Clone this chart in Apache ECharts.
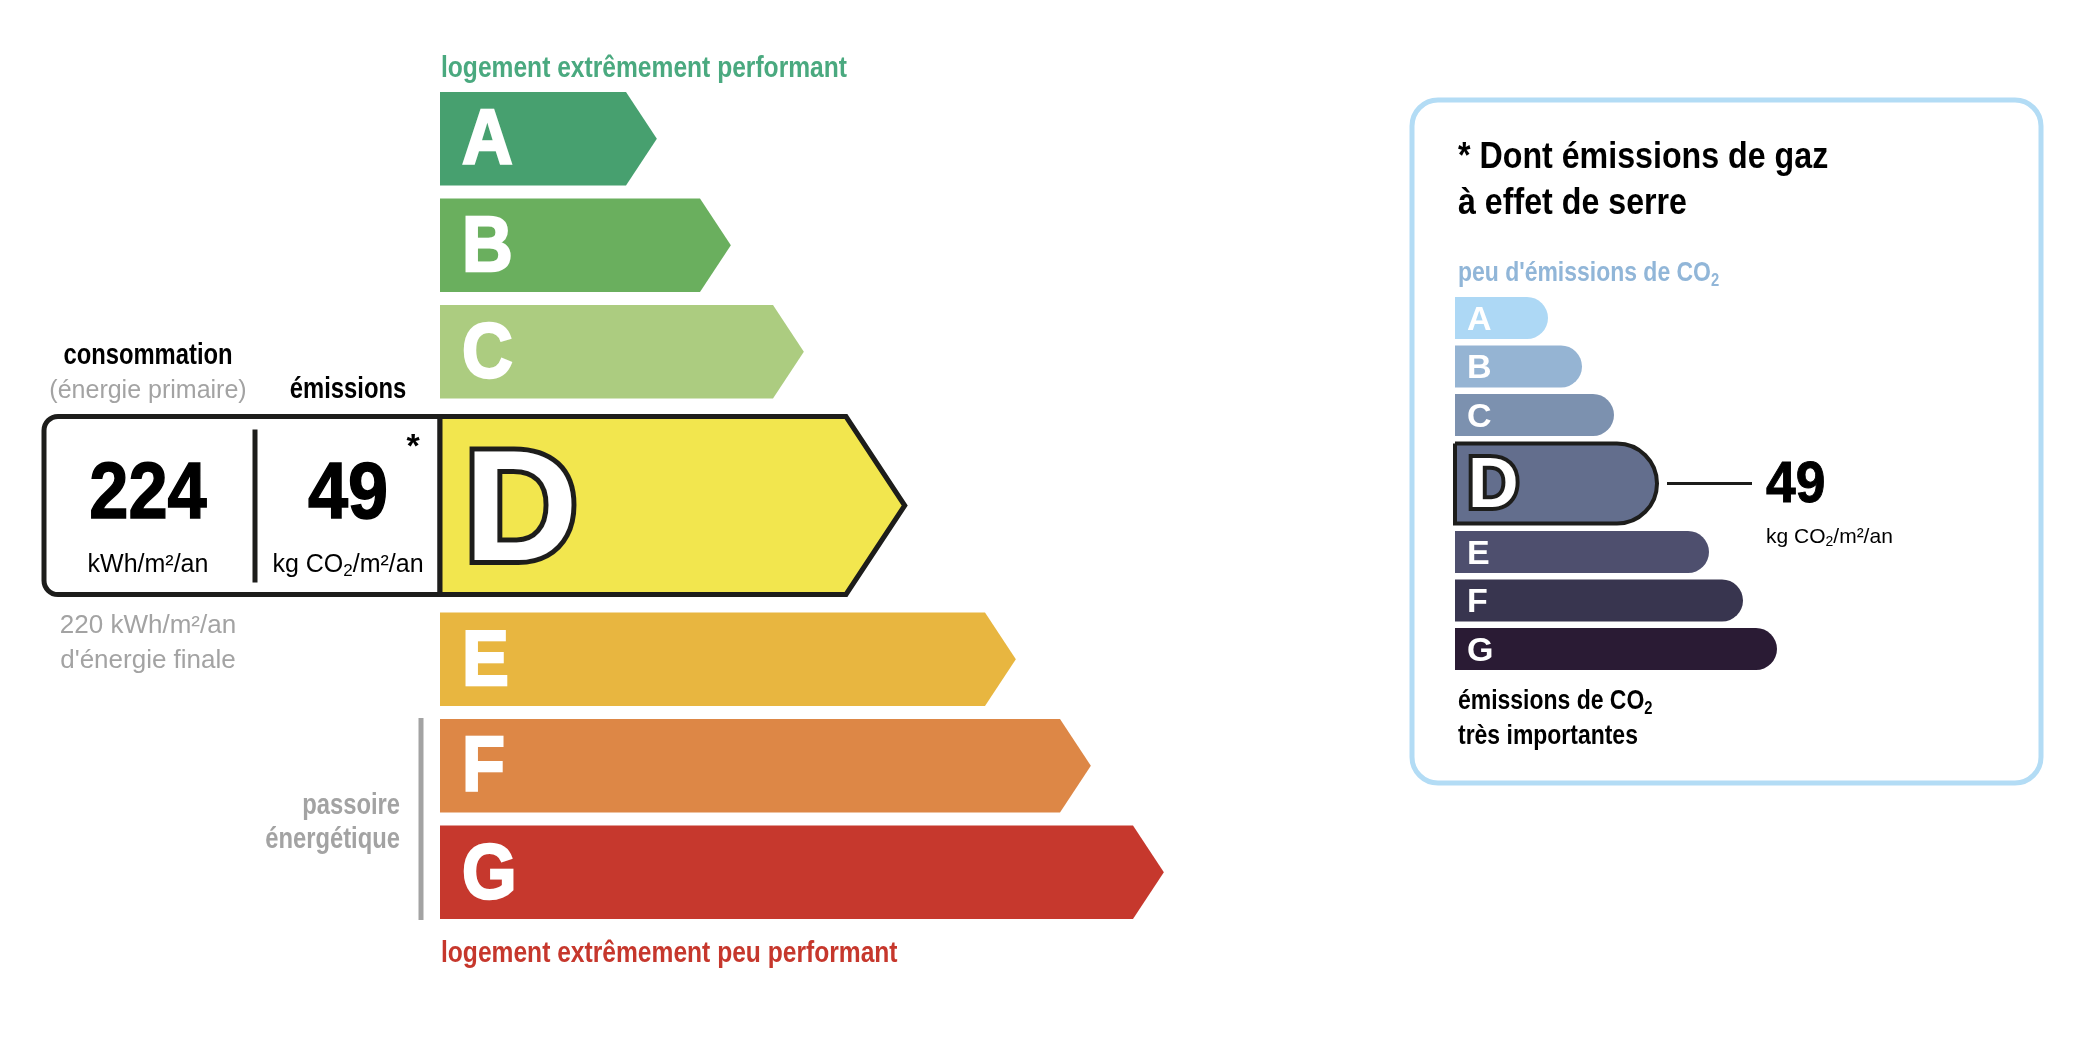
<!DOCTYPE html>
<html>
<head>
<meta charset="utf-8">
<title>DPE</title>
<style>
  html, body { margin: 0; padding: 0; background: #fff; }
  #chart { width: 2090px; height: 1038px; }
</style>
<script src="https://cdn.jsdelivr.net/npm/echarts@6/dist/echarts.min.js"></script>
</head>
<body>
<div id="chart"></div>
<script>
// classes of the label, and the one this dwelling gets
const classes = ['A', 'B', 'C', 'D', 'E', 'F', 'G'];
const currentClass = 'D';

// bar lengths (arbitrary units, 1 unit ~ 1px)
const energyBarLength = [186, 260, 333, 406, 545, 620, 693];
const co2BarLength = [93, 127, 159, 202, 254, 288, 322];

const energyColors = ['#47a06f', '#6aaf5e', '#accc80', '#f2e64e', '#e8b640', '#dd8746', '#c6382d'];
const co2Colors = ['#add8f5', '#95b4d3', '#7c91af', '#636e8d', '#4e4f6e', '#38354f', '#2a1b34'];

// values shown on the label
const primaryEnergy = 224;
const finalEnergy = 220;
const emissions = 49;

const FONT = '"Liberation Sans", Arial, sans-serif';
const NARROW = 0.82;
const INK = '#1d1d1b';
const GREY = '#a3a3a3';

// rows: the current class is drawn taller than the others
function rowLayout(h, gap, hCur, gapCur) {
  let y = 0;
  const rows = [];
  classes.forEach(function (c, i) {
    const cur = c === currentClass;
    if (i > 0) y += (cur || classes[i - 1] === currentClass) ? gapCur : gap;
    const hh = cur ? hCur : h;
    rows.push({ center: y + hh / 2, height: hh });
    y += hh;
  });
  return { rows: rows, total: y };
}
const leftRows = rowLayout(93.5, 13, 178, 18);
const rightRows = rowLayout(42, 6.5, 80, 7.5);

// text helper: y is the baseline. "CO2" gets a real subscript through rich text
function txt(x, baseline, text, size, o) {
  o = o || {};
  const color = o.color || '#000';
  const weight = o.bold ? 'bold' : 'normal';
  const style = {
    text: text,
    fontSize: size,
    fontFamily: FONT,
    fontWeight: weight,
    fill: color,
    align: o.align || 'left',
    verticalAlign: 'middle'
  };
  if (o.heavy) {
    style.stroke = color;
    style.lineWidth = o.heavy;
  }
  if (text.indexOf('CO2') >= 0) {
    style.text = text.split('CO2').map(function (s) {
      return s ? '{n|' + s + '}' : '';
    }).join('{n|CO}{s|2}');
    style.rich = {
      n: { fontSize: size, fontFamily: FONT, fontWeight: weight, fill: color, lineHeight: Math.round(size * 1.2) },
      s: {
        fontSize: Math.round(size * 0.66), fontFamily: FONT, fontWeight: weight, fill: color,
        lineHeight: Math.round(size * 0.5), verticalAlign: 'bottom'
      }
    };
  }
  return {
    type: 'text',
    x: x,
    y: baseline - size * 0.29 + 1.5,
    scaleX: o.narrow || 1,
    z: 10,
    style: style
  };
}

function renderEnergy(params, api) {
  const i = api.value(2);
  const start = api.coord([0, api.value(1)]);
  const end = api.coord([api.value(0), api.value(1)]);
  const h = api.size([0, api.value(3)])[1];
  const x0 = start[0], x1 = end[0], yc = start[1];
  const top = yc - h / 2, bot = yc + h / 2, tip = h * 0.33;
  const cur = classes[i] === currentClass;
  const children = [];
  if (cur) {
    children.push({
      type: 'rect',
      shape: { x: x0 - 396, y: top, width: 396, height: h, r: [14, 0, 0, 14] },
      style: { fill: '#fff', stroke: INK, lineWidth: 5 }
    });
    children.push({
      type: 'line',
      shape: { x1: x0 - 185, y1: top + 13, x2: x0 - 185, y2: bot - 12 },
      style: { stroke: INK, lineWidth: 5 }
    });
    children.push(txt(x0 - 292, yc + 12, String(primaryEnergy), 80, { bold: true, narrow: 0.88, heavy: 1.5, align: 'center' }));
    children.push(txt(x0 - 292, yc + 65, 'kWh/m²/an', 25, { align: 'center' }));
    children.push(txt(x0 - 92, yc + 12, String(emissions), 80, { bold: true, narrow: 0.9, heavy: 1.5, align: 'center' }));
    children.push(txt(x0 - 92, yc + 65, 'kg CO2/m²/an', 25, { align: 'center' }));
    children.push(txt(x0 - 27, yc - 50, '*', 34, { bold: true, align: 'center' }));
  }
  children.push({
    type: 'polygon',
    shape: { points: [[x0, top], [x1, top], [x1 + tip, yc], [x1, bot], [x0, bot]] },
    style: { fill: energyColors[i], stroke: cur ? INK : null, lineWidth: cur ? 5 : 0, lineJoin: 'miter' }
  });
  if (cur) {
    children.push({
      type: 'text', x: x0 + 24, y: yc + 11, z: 10,
      style: {
        text: classes[i], fontSize: 158, fontFamily: FONT, fontWeight: 'bold',
        fill: '#fff', stroke: INK, lineWidth: 10, strokeFirst: true,
        align: 'left', verticalAlign: 'middle'
      }
    });
  } else {
    children.push({
      type: 'text', x: x0 + 22, y: yc + 4, scaleX: 0.9, z: 10,
      style: {
        text: classes[i], fontSize: 78, fontFamily: FONT, fontWeight: 'bold',
        fill: '#fff', stroke: '#fff', lineWidth: 2.5, align: 'left', verticalAlign: 'middle'
      }
    });
  }
  return { type: 'group', children: children };
}

function renderCo2(params, api) {
  const i = api.value(2);
  const start = api.coord([0, api.value(1)]);
  const end = api.coord([api.value(0), api.value(1)]);
  const h = api.size([0, api.value(3)])[1];
  const x0 = start[0], x1 = end[0], yc = start[1];
  const cur = classes[i] === currentClass;
  const children = [{
    type: 'rect',
    shape: { x: x0, y: yc - h / 2, width: x1 - x0, height: h, r: [0, h / 2, h / 2, 0] },
    style: { fill: co2Colors[i], stroke: cur ? INK : null, lineWidth: cur ? 4 : 0 }
  }];
  if (cur) {
    children.push({
      type: 'text', x: x0 + 13, y: yc + 4, z: 10,
      style: {
        text: classes[i], fontSize: 70, fontFamily: FONT, fontWeight: 'bold',
        fill: '#fff', stroke: INK, lineWidth: 8, strokeFirst: true,
        align: 'left', verticalAlign: 'middle'
      }
    });
    children.push({
      type: 'line',
      shape: { x1: x1 + 10, y1: yc, x2: x1 + 95, y2: yc },
      style: { stroke: INK, lineWidth: 3 }
    });
    children.push(txt(x1 + 109, yc + 18, String(emissions), 58, { bold: true, narrow: 0.92, heavy: 1 }));
    children.push(txt(x1 + 109, yc + 58, 'kg CO2/m²/an', 21));
  } else {
    children.push({
      type: 'text', x: x0 + 12, y: yc + 2.5, z: 10,
      style: {
        text: classes[i], fontSize: 34, fontFamily: FONT, fontWeight: 'bold',
        fill: '#fff', align: 'left', verticalAlign: 'middle'
      }
    });
  }
  return { type: 'group', children: children };
}

const energyData = classes.map(function (c, i) {
  return [energyBarLength[i], leftRows.rows[i].center, i, leftRows.rows[i].height];
});
const co2Data = classes.map(function (c, i) {
  return [co2BarLength[i], rightRows.rows[i].center, i, rightRows.rows[i].height];
});

const chart = echarts.init(document.getElementById('chart'));
chart.setOption({
  animation: false,
  grid: [
    { left: 440, top: 92, width: 1000, height: leftRows.total },
    { left: 1455, top: 297, width: 400, height: rightRows.total }
  ],
  xAxis: [
    { gridIndex: 0, type: 'value', min: 0, max: 1000, show: false },
    { gridIndex: 1, type: 'value', min: 0, max: 400, show: false }
  ],
  yAxis: [
    { gridIndex: 0, type: 'value', inverse: true, min: 0, max: leftRows.total, show: false },
    { gridIndex: 1, type: 'value', inverse: true, min: 0, max: rightRows.total, show: false }
  ],
  series: [
    {
      type: 'custom', name: 'energie', xAxisIndex: 0, yAxisIndex: 0,
      encode: { x: 0, y: 1 }, data: energyData, renderItem: renderEnergy
    },
    {
      type: 'custom', name: 'co2', xAxisIndex: 1, yAxisIndex: 1,
      encode: { x: 0, y: 1 }, data: co2Data, renderItem: renderCo2
    }
  ],
  graphic: [
    txt(441, 76, 'logement extrêmement performant', 30, { bold: true, narrow: NARROW, color: '#4aa97f' }),
    txt(441, 961, 'logement extrêmement peu performant', 30, { bold: true, narrow: NARROW, color: '#c6372c' }),
    txt(148, 363, 'consommation', 29, { bold: true, narrow: NARROW, align: 'center' }),
    txt(148, 397, '(énergie primaire)', 25, { color: GREY, align: 'center' }),
    txt(348, 397, 'émissions', 29, { bold: true, narrow: NARROW, align: 'center' }),
    txt(148, 632, finalEnergy + ' kWh/m²/an', 26, { color: GREY, align: 'center' }),
    txt(148, 667, "d'énergie finale", 26, { color: GREY, align: 'center' }),
    txt(400, 813, 'passoire', 29, { bold: true, narrow: NARROW, color: GREY, align: 'right' }),
    txt(400, 847, 'énergétique', 29, { bold: true, narrow: NARROW, color: GREY, align: 'right' }),
    {
      type: 'line',
      shape: { x1: 421, y1: 718, x2: 421, y2: 920 },
      style: { stroke: GREY, lineWidth: 5 }
    },
    {
      type: 'rect',
      shape: { x: 1412, y: 100, width: 629, height: 683, r: 26 },
      style: { fill: 'none', stroke: '#b3dcf5', lineWidth: 5 }
    },
    txt(1458, 167, '* Dont émissions de gaz', 37, { bold: true, narrow: 0.87 }),
    txt(1458, 213, 'à effet de serre', 37, { bold: true, narrow: 0.87 }),
    txt(1458, 280, "peu d'émissions de CO2", 28, { bold: true, narrow: NARROW, color: '#91b6d8' }),
    txt(1458, 708, 'émissions de CO2', 28, { bold: true, narrow: NARROW }),
    txt(1458, 743, 'très importantes', 28, { bold: true, narrow: NARROW })
  ]
});
</script>
</body>
</html>
